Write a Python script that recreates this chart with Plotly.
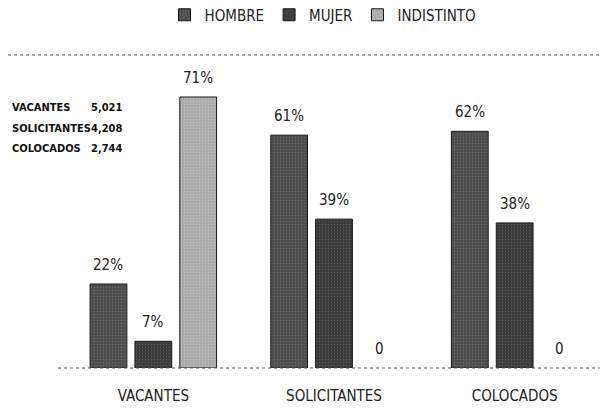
import plotly.graph_objects as go

categories = ["VACANTES", "SOLICITANTES", "COLOCADOS"]
series_names = ["HOMBRE", "MUJER", "INDISTINTO"]
hombre = [22, 61, 62]
mujer = [7, 39, 38]
indistinto = [71, 0, 0]
totals_labels = ["VACANTES", "SOLICITANTES", "COLOCADOS"]
totals_values = ["5,021", "4,208", "2,744"]

series_values = [hombre, mujer, indistinto]
colors = ["#4d4d4d", "#3b3b3b", "#ababab"]
pat_colors = ["#8a8a8a", "#7a7a7a", "#d4d4d4"]

FONT = "DejaVu Sans Condensed, Liberation Sans, sans-serif"

# page body has an 8px margin, so figure is 600x411
W, H = 600, 411
ml, mr, mt, mb = 55, 3, 47, 51
pw, ph = W - ml - mr, H - mt - mb
slot_px = 45  # distance between bar centres within a group

fig = go.Figure()
for k, (name, vals, col, pc) in enumerate(zip(series_names, series_values, colors, pat_colors)):
    fig.add_trace(go.Bar(
        name=name, x=categories, y=vals,
        marker=dict(color=col,
                    line=dict(color="#1a1a1a", width=[1 if v > 0 else 0 for v in vals]),
                    pattern=dict(shape=".", fgcolor=pc, size=3, solidity=0.15)),
    ))
    for c, v in zip(categories, vals):
        fig.add_annotation(x=c, y=v, xref="x", yref="y", text=f"{v}%" if v > 0 else "0",
                           showarrow=False, yanchor="bottom", yshift=8, xshift=(k - 1) * slot_px,
                           font=dict(family=FONT, size=15, color="#222222"))

# totals block (pixel positions converted to paper coords)
ys = [99, 120, 140]
for lab, val, yp in zip(totals_labels, totals_values, ys):
    fig.add_annotation(x=(2 - ml) / pw, y=(H - mb - yp) / ph, xref="paper", yref="paper",
                       text="<b>" + lab + "</b>", showarrow=False, xanchor="left", yanchor="middle",
                       font=dict(family=FONT, size=11, color="#111111"))
    fig.add_annotation(x=(116 - ml) / pw, y=(H - mb - yp) / ph, xref="paper", yref="paper",
                       text="<b>" + val + "</b>", showarrow=False, xanchor="right", yanchor="middle",
                       font=dict(family=FONT, size=11, color="#111111"))

# dotted frame lines
fig.add_shape(type="line", xref="paper", yref="paper",
              x0=-ml / pw, x1=1 + mr / pw, y0=1, y1=1,
              line=dict(color="#555555", width=1, dash="dot"))
fig.add_shape(type="line", xref="paper", yref="paper",
              x0=(50 - ml) / pw, x1=1 + mr / pw, y0=0, y1=0,
              line=dict(color="#555555", width=1, dash="dot"))

fig.update_layout(
    width=W, height=H,
    margin=dict(l=ml, r=mr, t=mt, b=mb, autoexpand=False),
    paper_bgcolor="white", plot_bgcolor="white",
    barmode="group", bargap=0.255, bargroupgap=0.18,
    showlegend=True,
    legend=dict(orientation="h", xref="container", yref="container",
                x=0.525, xanchor="center", y=1 - 7 / H, yanchor="middle",
                font=dict(family=FONT, size=15, color="#222222"),
                itemwidth=30, traceorder="normal", tracegroupgap=0),
    xaxis=dict(showgrid=False, showline=False, zeroline=False, ticks="", automargin=False,
               ticklabelstandoff=17,
               tickfont=dict(family=FONT, size=15, color="#222222")),
    yaxis=dict(range=[0, 82], visible=False, showgrid=False, zeroline=False, automargin=False),
)

fig.write_html("out.html")
